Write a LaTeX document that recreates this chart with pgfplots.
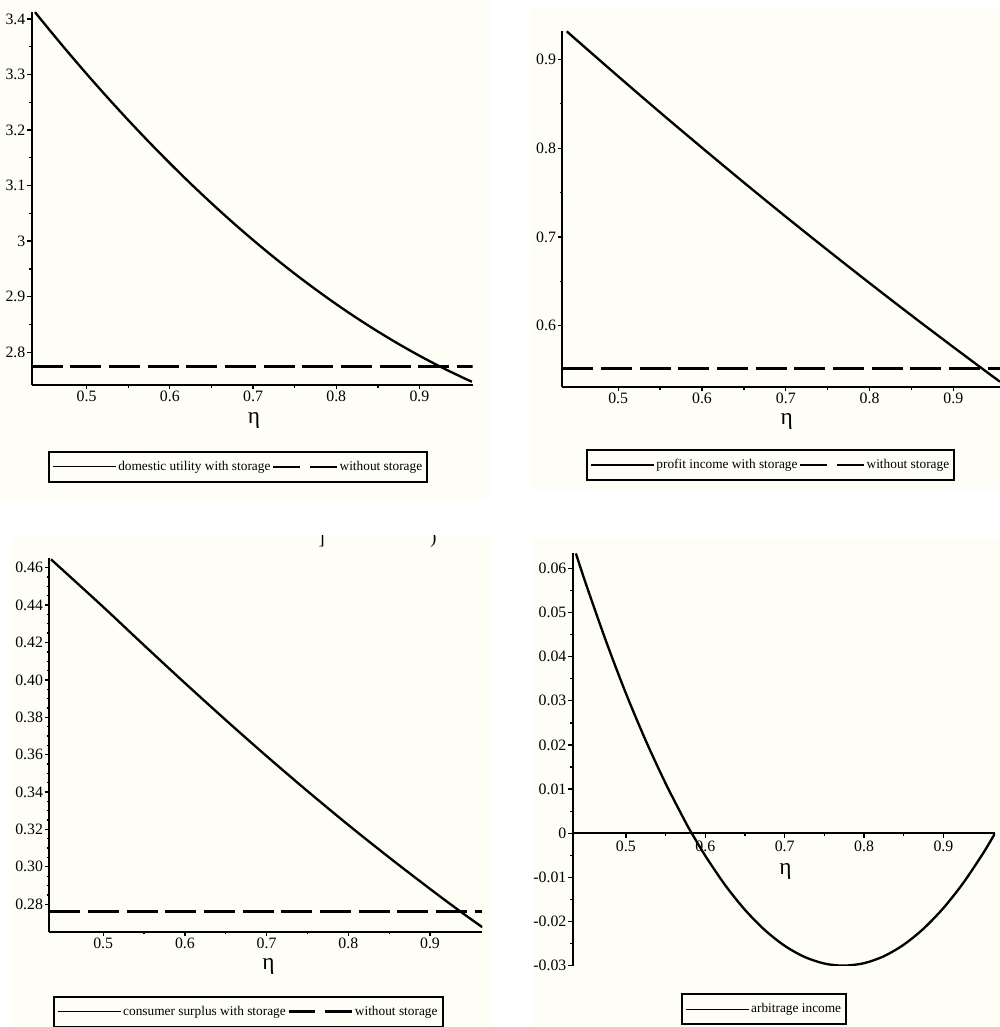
\documentclass[border=0pt]{standalone}
\usepackage{pgfplots}
\pgfplotsset{compat=1.18}
\usepackage{fontspec}
\setmainfont{Liberation Serif}
\definecolor{cream}{RGB}{254,254,247}

\pgfplotsset{
  maplestyle/.style={
    scale only axis,
    axis lines=left,
    axis line style={-, line width=1.1pt},
    enlargelimits=false,
    tick align=outside,
    major tick length=2.6pt,
    minor tick length=1.6pt,
    every tick/.style={black, line width=0.8pt},
    tick label style={font=\fontsize{9.5}{11}\selectfont, inner sep=1pt},
    /pgf/number format/assume math mode=true,
    scaled ticks=false,
    xtick={0.5,0.6,0.7,0.8,0.9},
    minor x tick num=1,
    xlabel={η},
    xlabel style={font=\fontsize{14}{16}\selectfont, anchor=center, inner sep=0pt},
    legend columns=2,
    legend image code/.code={\draw[##1] (0pt,0pt) -- (38pt,0pt);},
    legend style={draw=black, line width=1.2pt, fill=cream,
      font=\fontsize{8}{9.6}\selectfont, anchor=center,
      inner xsep=2pt, inner ysep=3.5pt,
      nodes={inner xsep=1pt, inner ysep=2pt},
      /tikz/every even column/.append style={column sep=0pt}},
  },
  solidcurve/.style={black, line width=1.4pt, smooth},
  dashedline/.style={black, line width=1.7pt, dash pattern=on 18.6pt off 4.6pt},
  legsolid/.style={black, line width=0.8pt},
  legdashed/.style={black, line width=1.5pt, dash pattern=on 16pt off 6pt},
}

\begin{document}
\begin{tikzpicture}
\useasboundingbox (0,0) rectangle (600pt,616.2pt);
\clip (0,0) rectangle (600pt,616.2pt);
\fill[white] (0,0) rectangle (600pt,616.2pt);
\fill[cream] (0pt,316.2pt) rectangle (294pt,616.2pt);
\fill[cream] (318pt,322.2pt) rectangle (600pt,611.4pt);
\fill[cream] (7.2pt,0pt) rectangle (295.2pt,294pt);
\fill[cream] (319.8pt,0pt) rectangle (600pt,293.4pt);

\begin{scope}
\clip (150pt,284pt) rectangle (300pt,294.6pt);
\node[font=\fontsize{11}{12}\selectfont] at (193pt,292.5pt) {]};
\node[font=\fontsize{11}{12}\selectfont] at (260pt,292.5pt) {)};
\end{scope}

% Panel 1: domestic utility
\begin{axis}[maplestyle,
  at={(19.02pt,385.2pt)}, anchor=south west,
  width=264.6pt, height=224pt,
  xmin=0.434, xmax=0.964, ymin=2.741, ymax=3.413,
  ytick={2.8,2.9,3,3.1,3.2,3.3,3.4},
  minor y tick num=1,
  xlabel style={at={(axis description cs:0.504,-0.094)}},
  legend style={at={(0.4676,-0.219)}},
]
\addplot[solidcurve, forget plot] coordinates {
(0.438,3.4121) (0.45,3.3899) (0.475,3.3447) (0.50,3.3010) (0.525,3.2587)
(0.55,3.2178) (0.575,3.1783) (0.60,3.1402) (0.625,3.1035) (0.65,3.0683)
(0.675,3.0344) (0.70,3.0020) (0.725,2.9710) (0.75,2.9414) (0.775,2.9133)
(0.80,2.8865) (0.825,2.8612) (0.85,2.8373) (0.875,2.8148) (0.90,2.7937)
(0.925,2.7740) (0.95,2.7558) (0.963,2.7468)};
\addplot[dashedline, forget plot] coordinates {(0.434,2.775) (0.964,2.775)};
\addlegendimage{legsolid}
\addlegendentry{domestic utility with storage}
\addlegendimage{legdashed}
\addlegendentry{without storage}
\end{axis}

% Panel 2: profit income
\begin{axis}[maplestyle,
  at={(337.38pt,384pt)}, anchor=south west,
  width=262.6pt, height=213.6pt,
  xmin=0.4333, xmax=0.9556, ymin=0.531, ymax=0.932,
  ytick={0.6,0.7,0.8,0.9},
  minor y tick num=1,
  xlabel style={at={(axis description cs:0.5127,-0.0975)}},
  legend style={at={(0.4757,-0.219)}},
]
\addplot[solidcurve, forget plot] coordinates {
(0.4386,0.9316) (0.45,0.9221) (0.50,0.8809) (0.55,0.8403) (0.60,0.8005)
(0.65,0.7613) (0.70,0.7228) (0.75,0.6851) (0.80,0.6480) (0.85,0.6116)
(0.90,0.5759) (0.934,0.5520) (0.9556,0.5369)};
\addplot[dashedline, forget plot] coordinates {(0.4333,0.552) (0.9556,0.552)};
\addlegendimage{legsolid}
\addlegendentry{profit income with storage}
\addlegendimage{legdashed}
\addlegendentry{without storage}
\end{axis}

% Panel 3: consumer surplus
\begin{axis}[maplestyle,
  at={(29.58pt,57.18pt)}, anchor=south west,
  width=259.8pt, height=224pt,
  xmin=0.434, xmax=0.964, ymin=0.2653, ymax=0.4650,
  ytick={0.28,0.30,0.32,0.34,0.36,0.38,0.40,0.42,0.44,0.46},
  minor y tick num=3,
  yticklabel style={/pgf/number format/fixed, /pgf/number format/fixed zerofill, /pgf/number format/precision=2},
  xlabel style={at={(axis description cs:0.506,-0.0937)}},
  legend style={at={(0.459,-0.2143)}},
]
\addplot[solidcurve, forget plot] coordinates {
(0.436,0.4645) (0.50,0.4390) (0.55,0.4185) (0.60,0.3983) (0.65,0.3785)
(0.70,0.3592) (0.75,0.3405) (0.80,0.3224) (0.85,0.3050) (0.90,0.2882)
(0.935,0.2768) (0.964,0.2677)};
\addplot[dashedline, forget plot] coordinates {(0.434,0.2762) (0.964,0.2762)};
\addlegendimage{legsolid}
\addlegendentry{consumer surplus with storage}
\addlegendimage{legdashed}
\addlegendentry{without storage}
\end{axis}

% Panel 4: arbitrage income
\begin{axis}[maplestyle,
  axis x line=middle, axis y line=left,
  axis line style={-, line width=1.1pt},
  tick align=outside,
  at={(343.62pt,36.78pt)}, anchor=south west,
  width=253.4pt, height=247.4pt,
  xmin=0.433, xmax=0.965, ymin=-0.030, ymax=0.0634,
  ytick={-0.03,-0.02,-0.01,0,0.01,0.02,0.03,0.04,0.05,0.06},
  minor y tick num=1,
  yticklabel style={/pgf/number format/fixed, /pgf/number format/precision=2},
  xticklabel style={anchor=north, yshift=-1pt},
  xlabel={},
  legend columns=1,
  legend style={at={(0.4525,-0.1055)}},
]
\addplot[solidcurve, forget plot] coordinates {
(0.437,0.0634) (0.45,0.0563) (0.475,0.0435) (0.50,0.0317) (0.525,0.0210)
(0.55,0.0113) (0.575,0.00256) (0.583,0.0) (0.60,-0.0051) (0.625,-0.01174)
(0.65,-0.01735) (0.675,-0.02193) (0.70,-0.02549) (0.725,-0.02801) (0.75,-0.02951)
(0.774,-0.02999) (0.80,-0.02943) (0.825,-0.02785) (0.85,-0.02524) (0.875,-0.0216)
(0.90,-0.01694) (0.925,-0.01125) (0.95,-0.00453) (0.965,0.0)};
\addlegendimage{legsolid}
\addlegendentry{arbitrage income}
\node[font=\fontsize{14}{16}\selectfont, inner sep=0pt] at (axis description cs:0.504,0.228) {η};
\end{axis}
\end{tikzpicture}
\end{document}
